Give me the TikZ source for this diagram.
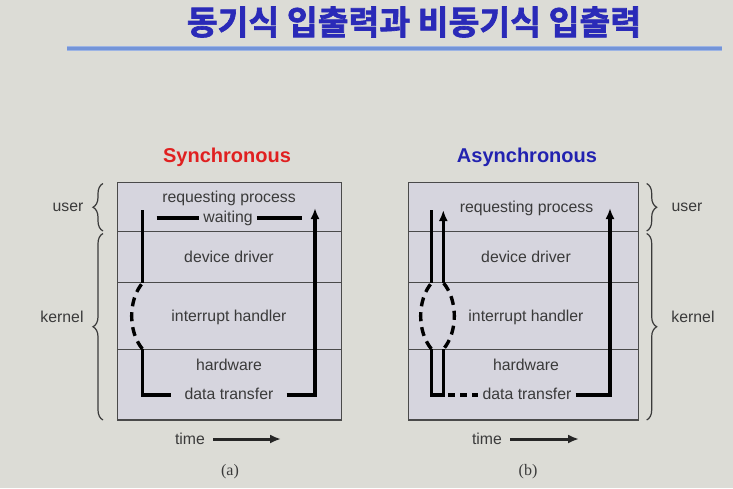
\documentclass[tikz,border=0pt]{standalone}
\usepackage{fontspec}
\setmainfont{Liberation Sans}
\newfontfamily\serifx{Liberation Serif}
\newfontfamily\cjk[FakeBold=2]{Noto Sans CJK KR Bold}
\usetikzlibrary{arrows.meta,decorations.pathreplacing}
\definecolor{bg}{HTML}{DCDCD6}
\definecolor{boxfill}{HTML}{D6D5DE}
\definecolor{boxline}{HTML}{4A4A4A}
\definecolor{txt}{HTML}{3A3A3A}
\definecolor{titleblue}{HTML}{2A2AB8}
\definecolor{rulecol}{HTML}{7394D8}
\definecolor{syncred}{HTML}{E02020}
\definecolor{asyncblue}{HTML}{2222B0}
\begin{document}
\begin{tikzpicture}[x=1pt,y=-1pt,
  lbl/.style={text=txt,font=\fontsize{15.8}{18}\selectfont,inner sep=1pt},
  head/.style={font=\fontsize{20}{22}\selectfont\bfseries,inner sep=0pt},
  layer/.style={draw=boxline,line width=1.5pt,fill=boxfill},
  sep/.style={draw=boxline,line width=1.3pt},
  flow/.style={line width=3.2pt,black},
  flowarrow/.style={flow,-{Latex[length=11pt,width=9pt]}},
  dflow/.style={flow,line width=3.4pt,dash pattern=on 9pt off 6pt,dash phase=-2pt},
  brc/.style={draw=txt,line width=1.2pt,decorate,decoration={brace,amplitude=10pt}},
  timearrow/.style={line width=3pt,black!85,-{Latex[length=11pt,width=9pt]}}
]
\useasboundingbox (0,0) rectangle (733,488);
\fill[bg] (0,0) rectangle (733,488);

% title
\node[text=titleblue,font=\cjk\fontsize{33.5}{37}\selectfont,inner sep=0pt] (title) at (414,22) {동기식 입출력과 비동기식 입출력};
\fill[rulecol!70!white] (67,45.5) rectangle (722,51);
\fill[rulecol] (67,46.8) rectangle (722,49.8);

% ---------- (a) synchronous ----------
\node[head,text=syncred] (hsync) at (227,157) {Synchronous};
\draw[layer] (117.7,182.7) rectangle (341.7,420);
\draw[sep] (117.7,231.7) -- (341.7,231.7);
\draw[sep] (117.7,282.7) -- (341.7,282.7);
\draw[sep] (117.7,349.3) -- (341.7,349.3);

\node[lbl] (areq) at (229,198) {requesting process};
\node[lbl] (await) at (228,218) {waiting};
\node[lbl] (adrv) at (229,257) {device driver};
\node[lbl] (aint) at (229,317) {interrupt handler};
\node[lbl] (ahw) at (229,365) {hardware};
\node[lbl] (adt) at (229,393.5) {data transfer};

\coordinate (w1) at (156.7,218);
\coordinate (w2) at (301.7,218);
\draw[flow] (w1) -- ([xshift=-3pt]await.west);
\draw[flow] ([xshift=3pt]await.east) -- (w2);

\coordinate (a1) at (142.7,210);
\coordinate (a2) at (142.7,282.7);
\coordinate (a3) at (142.7,349.3);
\coordinate (a4) at (142.7,395);
\draw[flow] (a1) -- (a2);
\draw[dflow] (a2) .. controls (128,300) and (128,332) .. (a3);
\draw[flow] (a3) -- (a4) -- ([xshift=-12pt]adt.west |- a4);
\coordinate (a5) at (315,395);
\coordinate (a6) at (315,208);
\draw[flowarrow] ([xshift=12pt]adt.east |- a5) -- (a5) -- (a6);

\draw[brc] (103,231) -- (103,183.5);
\draw[brc] (103,420) -- (103,233.5);
\node[lbl] (auser) at (68,207) {user};
\node[lbl] (akern) at (62,317) {kernel};

\node[lbl] (atime) at (190,439) {time};
\coordinate (at1) at (213,439);
\coordinate (at2) at (281,439);
\draw[timearrow] (at1) -- (at2);
\node[text=txt,font=\serifx\fontsize{16}{18}\selectfont] (acap) at (230,471.5) {(a)};

% ---------- (b) asynchronous ----------
\node[head,text=asyncblue] (hasync) at (527,157) {Asynchronous};
\draw[layer] (408.3,182.7) rectangle (638.3,420);
\draw[sep] (408.3,231.7) -- (638.3,231.7);
\draw[sep] (408.3,282.7) -- (638.3,282.7);
\draw[sep] (408.3,349.3) -- (638.3,349.3);

\node[lbl] (breq) at (526.5,208) {requesting process};
\node[lbl] (bdrv) at (526,257) {device driver};
\node[lbl] (bint) at (526,317) {interrupt handler};
\node[lbl] (bhw) at (526,365) {hardware};
\node[lbl] (bdt) at (527,393.5) {data transfer};

\coordinate (b1) at (431.7,210);
\coordinate (b2) at (431.7,282.7);
\coordinate (b3) at (431.7,349.3);
\coordinate (b4) at (431.7,395);
\coordinate (c1) at (443.3,210);
\coordinate (c2) at (443.3,282.7);
\coordinate (c3) at (443.3,349.3);
\coordinate (c4) at (443.3,395);
\draw[flow] (b1) -- (b2);
\draw[dflow] (b2) .. controls (417,300) and (417,332) .. (b3);
\draw[flow] (b3) -- (b4) -- (c4) -- (c3);
\draw[dflow] (c3) .. controls (458,332) and (458,300) .. (c2);
\draw[flowarrow] (c2) -- (c1);
\draw[flow,dash pattern=on 7pt off 5pt] ([xshift=5pt]c4) -- ([xshift=-3pt]bdt.west |- c4);
\coordinate (b5) at (610,395);
\coordinate (b6) at (610,208);
\draw[flowarrow] ([xshift=3pt]bdt.east |- b5) -- (b5) -- (b6);

\draw[brc] (646.7,183.5) -- (646.7,231);
\draw[brc] (646.7,233.5) -- (646.7,420);
\node[lbl] (buser) at (687,207) {user};
\node[lbl] (bkern) at (693,317) {kernel};

\node[lbl] (btime) at (487,439) {time};
\coordinate (bt1) at (510,439);
\coordinate (bt2) at (579,439);
\draw[timearrow] (bt1) -- (bt2);
\node[text=txt,font=\serifx\fontsize{16}{18}\selectfont] (bcap) at (528,471.5) {(b)};
\end{tikzpicture}
\end{document}
